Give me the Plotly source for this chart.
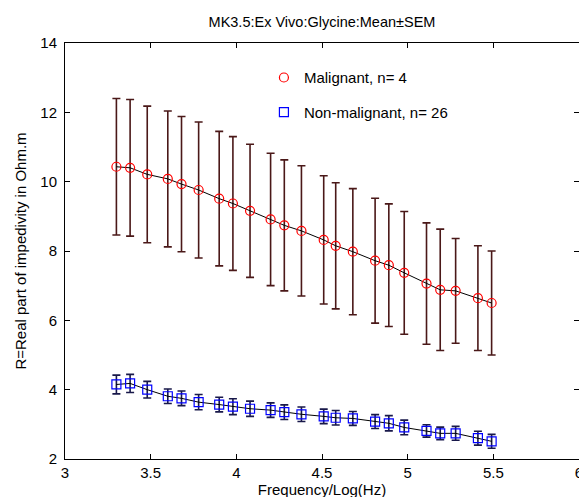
import plotly.graph_objects as go

# Data
log_freq = [3.30, 3.38, 3.48, 3.60, 3.68, 3.78, 3.90, 3.98, 4.08, 4.20, 4.28, 4.38,
            4.51, 4.58, 4.68, 4.81, 4.89, 4.98, 5.11, 5.19, 5.28, 5.41, 5.49]

malignant_mean = [10.43, 10.40, 10.21, 10.08, 9.93, 9.76, 9.51, 9.37, 9.16, 8.91, 8.74, 8.58,
                  8.32, 8.15, 7.98, 7.72, 7.59, 7.37, 7.06, 6.88, 6.85, 6.64, 6.50]
malignant_sem = [1.97, 1.97, 1.97, 1.96, 1.95, 1.96, 1.94, 1.93, 1.92, 1.91, 1.89, 1.88,
                 1.85, 1.82, 1.82, 1.80, 1.77, 1.77, 1.75, 1.75, 1.51, 1.51, 1.50]

nonmal_mean = [4.15, 4.18, 4.00, 3.81, 3.75, 3.64, 3.57, 3.51, 3.45, 3.41, 3.35, 3.29,
               3.23, 3.19, 3.17, 3.08, 3.03, 2.91, 2.81, 2.74, 2.74, 2.60, 2.51]
nonmal_sem = [0.27, 0.26, 0.24, 0.21, 0.21, 0.22, 0.21, 0.23, 0.22, 0.21, 0.21, 0.21,
              0.21, 0.21, 0.20, 0.20, 0.22, 0.21, 0.18, 0.18, 0.20, 0.20, 0.20]

x_ticks = [3, 3.5, 4, 4.5, 5, 5.5, 6]
x_tick_labels = ["3", "3.5", "4", "4.5", "5", "5.5", "6"]
y_ticks = [2, 4, 6, 8, 10, 12, 14]

FONT = "Liberation Sans, Arial, sans-serif"
FS = 15

fig = go.Figure()

fig.add_trace(go.Scatter(
    x=log_freq, y=malignant_mean, mode="lines+markers",
    line=dict(color="black", width=1),
    marker=dict(symbol="circle-open", color="#ff0000", size=9, line=dict(width=1.2)),
    error_y=dict(type="data", array=malignant_sem, visible=True,
                 color="#4a1818", thickness=1.6, width=4),
    showlegend=False,
))
fig.add_trace(go.Scatter(
    x=log_freq, y=nonmal_mean, mode="lines+markers",
    line=dict(color="black", width=1),
    marker=dict(symbol="square-open", color="#0000ff", size=9, line=dict(width=1.2)),
    error_y=dict(type="data", array=nonmal_sem, visible=True,
                 color="#18184a", thickness=1.6, width=4),
    showlegend=False,
))

# legend-only entries (markers only, like the original legend)
fig.add_trace(go.Scatter(
    x=[None], y=[None], mode="markers", name="Malignant, n= 4",
    marker=dict(symbol="circle-open", color="#ff0000", size=9, line=dict(width=1.2)),
    legend="legend",
))
fig.add_trace(go.Scatter(
    x=[None], y=[None], mode="markers", name="Non-malignant, n= 26",
    marker=dict(symbol="square-open", color="#0000ff", size=9, line=dict(width=1.2)),
    legend="legend2",
))

axis_common = dict(
    showline=True, linecolor="black", linewidth=1, mirror="ticks",
    ticks="inside", ticklen=5, tickcolor="black", tickwidth=1,
    showgrid=False, zeroline=False,
    tickfont=dict(family=FONT, size=FS, color="black"),
)

fig.update_layout(
    width=587, height=497,
    margin=dict(l=52, r=13, t=35, b=43),
    paper_bgcolor="white", plot_bgcolor="white",
    font=dict(family=FONT, size=FS, color="black"),
    title=dict(text="MK3.5:Ex Vivo:Glycine:Mean±SEM", x=0.5, xref="paper",
               y=0.972, yref="container", yanchor="middle",
               font=dict(family=FONT, size=14.5, color="black")),
    xaxis=dict(range=[3, 6], tickvals=x_ticks, ticktext=x_tick_labels,
               title=dict(text="Frequency/Log(Hz)", standoff=1,
                          font=dict(family=FONT, size=FS)),
               **axis_common),
    yaxis=dict(range=[2, 14], tickvals=y_ticks, ticklabelstandoff=4,
               title=dict(text="R=Real part of impedivity in Ohm.m", standoff=10,
                          font=dict(family=FONT, size=FS)),
               **axis_common),
    legend=dict(x=0.387, y=0.9165, xanchor="left", yanchor="middle",
                bgcolor="rgba(0,0,0,0)", borderwidth=0,
                font=dict(family=FONT, size=FS, color="black")),
    legend2=dict(x=0.387, y=0.833, xanchor="left", yanchor="middle",
                 bgcolor="rgba(0,0,0,0)", borderwidth=0,
                 font=dict(family=FONT, size=FS, color="black")),
)

fig.write_html("out.html")
